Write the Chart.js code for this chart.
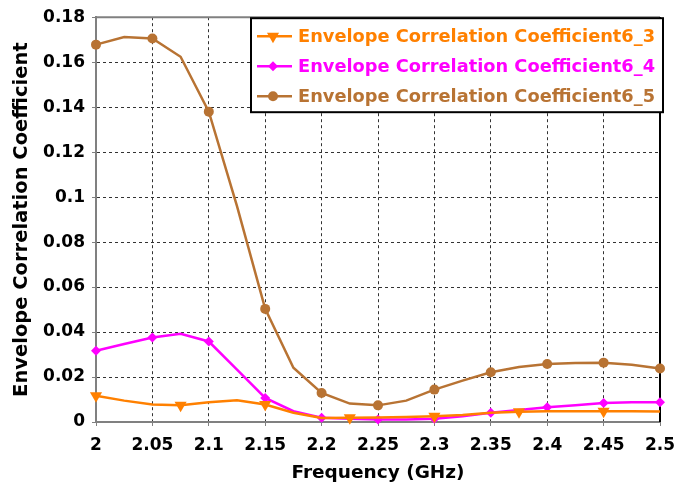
<!DOCTYPE html>
<html><head><meta charset="utf-8">
<script src="https://cdn.jsdelivr.net/npm/chart.js@4/dist/chart.umd.min.js"></script>
<style>html,body{margin:0;padding:0;background:#fff}#wrap{width:687px;height:487px}</style>
</head><body><div id="wrap"><canvas id="c" width="687" height="487"></canvas></div>
<script>
// ---- data ----
const freq = [2,2.025,2.05,2.075,2.1,2.125,2.15,2.175,2.2,2.225,2.25,2.275,2.3,2.325,2.35,2.375,2.4,2.425,2.45,2.475,2.5];
const ecc6_3 = [0.0117,0.0095,0.0078,0.0074,0.0088,0.0097,0.0078,0.0041,0.0018,0.0019,0.0020,0.0022,0.0026,0.0031,0.0041,0.0046,0.0048,0.0048,0.0048,0.0048,0.0047];
const ecc6_4 = [0.0317,0.0347,0.0376,0.0392,0.0358,0.0233,0.0107,0.0048,0.0019,0.0015,0.0011,0.0011,0.0014,0.0025,0.0041,0.0053,0.0066,0.0075,0.0085,0.0088,0.0088];
const ecc6_5 = [0.1678,0.1712,0.1705,0.1624,0.1380,0.0960,0.0503,0.0241,0.0129,0.0082,0.0074,0.0095,0.0144,0.0184,0.0221,0.0245,0.0258,0.0262,0.0264,0.0255,0.0238];
const seriesNames = ['Envelope Correlation Coefficient6_3','Envelope Correlation Coefficient6_4','Envelope Correlation Coefficient6_5'];
const xTicks = [2,2.05,2.1,2.15,2.2,2.25,2.3,2.35,2.4,2.45,2.5];
const yTicks = [0,0.02,0.04,0.06,0.08,0.1,0.12,0.14,0.16,0.18];
const xTitle = 'Frequency (GHz)';
const yTitle = 'Envelope Correlation Coefficient';

const FONT = 'DejaVu Sans';
const colors = ['#FF8000','#FF00FF','#B87333'];
const markerEvery = [3,2,2];
const markerSize = [7,5,5];
const styles = [{ps:'triangle',rot:180},{ps:'rectRot',rot:0},{ps:'circle',rot:0}];
const series = [ecc6_3, ecc6_4, ecc6_5];

const datasets = series.map((vals,k)=>({
  label: seriesNames[k],
  data: freq.map((f,i)=>({x:f,y:vals[i]})),
  borderColor: colors[k],
  backgroundColor: colors[k],
  borderWidth: 2.5,
  pointStyle: styles[k].ps,
  pointRotation: styles[k].rot,
  pointRadius: freq.map((f,i)=> i % markerEvery[k] === 0 ? markerSize[k] : 0),
  pointHoverRadius: 0,
  pointBorderWidth: 0,
  tension: 0,
  clip: false
}));

const frame = {
  id:'frame',
  beforeDatasetsDraw(chart){
    const {ctx, chartArea:a} = chart;
    ctx.save();
    ctx.lineWidth = 2;
    ctx.strokeStyle = '#808080';
    ctx.beginPath(); ctx.moveTo(a.left, a.top); ctx.lineTo(a.right, a.top); ctx.stroke();
    ctx.strokeStyle = '#000';
    ctx.beginPath(); ctx.moveTo(a.right, a.top); ctx.lineTo(a.right, a.bottom); ctx.stroke();
    ctx.restore();
  }
};

const boxLegend = {
  id:'boxLegend',
  afterDatasetsDraw(chart){
    const {ctx, chartArea:a} = chart;
    const R = a.right + 3, L = R - 412, T = a.top + 1, B = T + 94;
    ctx.save();
    ctx.fillStyle = '#fff'; ctx.fillRect(L,T,R-L,B-T);
    ctx.strokeStyle = '#000'; ctx.lineWidth = 2; ctx.strokeRect(L,T,R-L,B-T);
    ctx.font = 'bold 17.8px "'+FONT+'"';
    ctx.textBaseline = 'middle';
    chart.data.datasets.forEach((ds,i)=>{
      const y = T + 18 + i*30;
      ctx.strokeStyle = ds.borderColor; ctx.fillStyle = ds.borderColor; ctx.lineWidth = 2.5;
      ctx.beginPath(); ctx.moveTo(L+6,y); ctx.lineTo(L+41,y); ctx.stroke();
      Chart.helpers.drawPoint(ctx,{pointStyle:ds.pointStyle, radius:markerSize[i], rotation:ds.pointRotation, borderWidth:0}, L+22, y);
      ctx.fillStyle = ds.borderColor;
      ctx.fillText(ds.label, L+47, y+1);
    });
    ctx.restore();
  }
};

new Chart(document.getElementById('c'),{
  type:'line',
  data:{datasets},
  options:{
    responsive:false, animation:false, devicePixelRatio:1,
    layout:{padding:{top:16,right:27,left:0,bottom:0}},
    plugins:{legend:{display:false}, tooltip:{enabled:false}},
    scales:{
      x:{
        type:'linear', min:2, max:2.5,
        afterBuildTicks(s){ s.ticks = xTicks.map(v=>({value:v})); },
        afterFit(s){ s.height = 65; },
        ticks:{color:'#000', font:{family:FONT,size:17,weight:'bold'}, padding:9, maxRotation:0, autoSkip:false,
          callback:(v)=>String(+v.toFixed(2))},
        grid:{color:'#333', lineWidth:1, tickLength:4, tickColor:'#808080', tickWidth:1},
        border:{color:'#808080', width:2, dash:[3,3]},
        title:{display:true, text:xTitle, color:'#000', font:{family:FONT,size:18.5,weight:'bold'}, padding:{top:0,bottom:3}}
      },
      y:{
        type:'linear', min:0, max:0.18,
        afterBuildTicks(s){ s.ticks = yTicks.map(v=>({value:v})); },
        afterFit(s){ s.width = 96; },
        ticks:{color:'#000', font:{family:FONT,size:17,weight:'bold'}, padding:7, autoSkip:false,
          callback:(v)=>String(+v.toFixed(2))},
        grid:{color:'#333', lineWidth:1, tickLength:4, tickColor:'#808080', tickWidth:1},
        border:{color:'#808080', width:2, dash:[3,3]},
        title:{display:true, text:yTitle, color:'#000', font:{family:FONT,size:19.5,weight:'bold'}, padding:{top:10,bottom:0}}
      }
    }
  },
  plugins:[frame, boxLegend]
});
</script></body></html>
